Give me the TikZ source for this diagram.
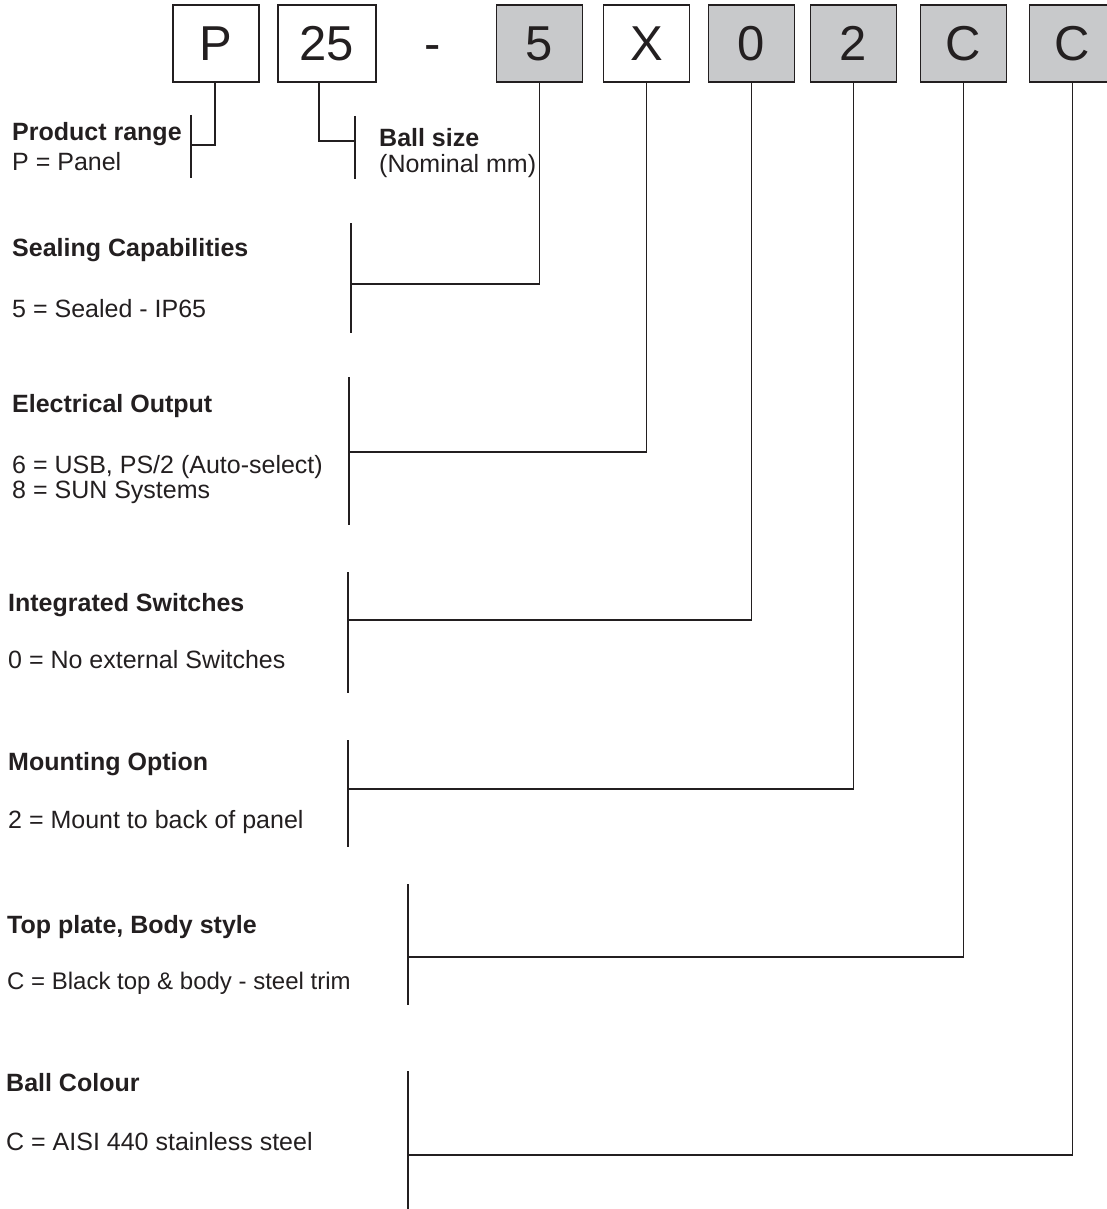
\documentclass[tikz,border=0pt]{standalone}
\usepackage{fontspec}
\setmainfont{Liberation Sans}
\definecolor{ink}{HTML}{231F20}
\definecolor{optgrey}{HTML}{C8C9CB}
\begin{document}
\begin{tikzpicture}[x=1pt,y=-1pt]
		\tikzset{code/.style={draw=ink, line width=1.6pt, minimum width=86pt, minimum height=77.5pt, inner sep=0pt, text height=35pt, text depth=0pt, text=ink, font=\fontsize{49}{49}\selectfont},
			opt/.style={code, fill=optgrey},
			head/.style={anchor=base west, inner sep=0pt, text=ink, font=\fontsize{25}{30}\selectfont\bfseries},
			val/.style={anchor=base west, inner sep=0pt, text=ink, font=\fontsize{25}{30}\selectfont},
			lead/.style={draw=ink, line width=1.4pt}}
		\useasboundingbox (0,0) rectangle (1106,1209);
		\def\ytop{43.5}
		% part number boxes
		\node[code] (bP) at (216,\ytop) {P};
		\node[code, minimum width=98pt] (b25) at (327,\ytop) {25};
		\node[code, draw=none] (dash) at (433,\ytop) {-};
		\node[opt] (b5) at (539.5,\ytop) {5};
		\node[code] (bX) at (646.5,\ytop) {X};
		\node[opt] (b0) at (751.5,\ytop) {0};
		\node[opt] (b2) at (853.5,\ytop) {2};
		\node[opt] (bC) at (963.5,\ytop) {C};
		\node[opt] (bCC) at (1072.5,\ytop) {C};
		% labels
		\node[head] (prodh) at (12,141) {Product range};
		\node[val] (prodv) at (12,171) {P = Panel};
		\node[head] (ballh) at (379,147) {Ball size};
		\node[val] (ballv) at (379,173) {(Nominal mm)};
		\node[head] (sealh) at (12,256) {Sealing Capabilities};
		\node[val] (sealv) at (12,317) {5 = Sealed - IP65};
		\node[head] (elech) at (12,412) {Electrical Output};
		\node[val] (elecv) at (12,473) {6 = USB, PS/2 (Auto-select)};
		\node[val] (elecw) at (12,498) {8 = SUN Systems};
		\node[head] (swh) at (8,611) {Integrated Switches};
		\node[val] (swv) at (8,668) {0 = No external Switches};
		\node[head] (mnth) at (8,770) {Mounting Option};
		\node[val] (mntv) at (8,828) {2 = Mount to back of panel};
		\node[head] (toph) at (7,933) {Top plate, Body style};
		\node[val, font=\fontsize{24}{30}\selectfont] (topv) at (7,989) {C = Black top \& body - steel trim};
		\node[head] (colh) at (6,1091) {Ball Colour};
		\node[val] (colv) at (6,1150) {C = AISI 440 stainless steel};
		% brackets
		\coordinate (prodt) at (191,115); \coordinate (prodb) at (191,178); \coordinate (prodj) at (191,145);
		\coordinate (ballt) at (355,116); \coordinate (ballb) at (355,179); \coordinate (ballj) at (355,141);
		\coordinate (sealt) at (351,223); \coordinate (sealb) at (351,333); \coordinate (sealj) at (351,284);
		\coordinate (elect) at (349,377); \coordinate (elecb) at (349,525); \coordinate (elecj) at (349,452);
		\coordinate (swt) at (348,572); \coordinate (swb) at (348,693); \coordinate (swj) at (348,620);
		\coordinate (mntt) at (348,740); \coordinate (mntb) at (348,847); \coordinate (mntj) at (348,789);
		\coordinate (topt) at (408,884); \coordinate (topb) at (408,1005); \coordinate (topj) at (408,957);
		\coordinate (colt) at (408,1071); \coordinate (colb) at (408,1209); \coordinate (colj) at (408,1155);
		\draw[lead] (prodt) -- (prodb);
		\draw[lead] (ballt) -- (ballb);
		\draw[lead] (sealt) -- (sealb);
		\draw[lead] (elect) -- (elecb);
		\draw[lead] (swt) -- (swb);
		\draw[lead] (mntt) -- (mntb);
		\draw[lead] (topt) -- (topb);
		\draw[lead] (colt) -- (colb);
		% leaders from the boxes
		\draw[lead] ([xshift=-1pt]bP.south) |- (prodj);
		\draw[lead] ([xshift=-8pt]b25.south) |- (ballj);
		\draw[lead] (b5.south) |- (sealj);
		\draw[lead] (bX.south) |- (elecj);
		\draw[lead] (b0.south) |- (swj);
		\draw[lead] (b2.south) |- (mntj);
		\draw[lead] (bC.south) |- (topj);
		\draw[lead] (bCC.south) |- (colj);
	\end{tikzpicture}
\end{document}
